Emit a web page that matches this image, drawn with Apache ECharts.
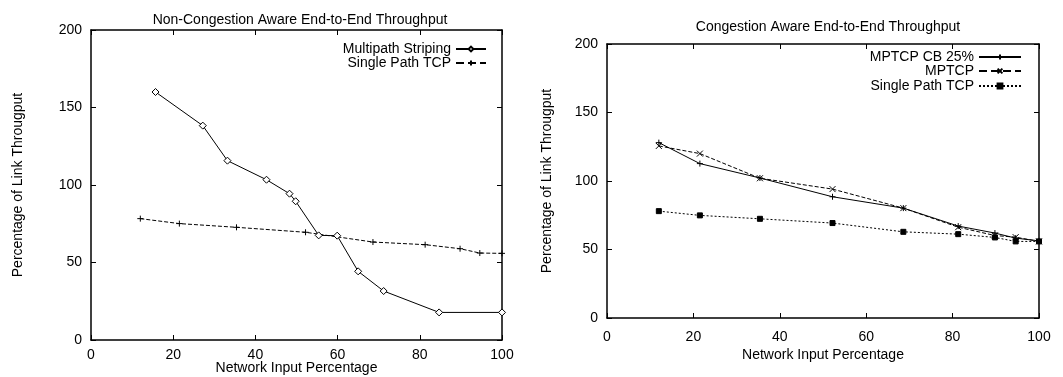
<!DOCTYPE html>
<html>
<head>
<meta charset="utf-8">
<script src="https://cdn.jsdelivr.net/npm/echarts@6/dist/echarts.min.js"></script>
<style>
  html, body { margin: 0; padding: 0; background: #fff; }
  #chart { width: 1063px; height: 377px; }
</style>
</head>
<body>
<div id="chart"></div>
<script>
// left panel: non-congestion aware
const stripingX = [15.7, 27.2, 33.2, 42.7, 48.3, 49.8, 55.4, 59.9, 65.0, 71.2, 84.7, 100];
const stripingY = [160, 138.3, 115.7, 103.4, 94.4, 89.5, 67.5, 67.3, 44.3, 31.6, 17.8, 17.8];
const singleX = [12, 21.5, 35.4, 52.2, 68.6, 81.3, 89.8, 94.6, 100];
const singleLeftY = [78.3, 75.1, 72.7, 69.5, 63.2, 61.5, 58.9, 56.1, 55.9];

// right panel: congestion aware
const cbY = [128.0, 112.7, 102.2, 88.5, 80.2, 67.1, 62.0, 58.3, 56.3];
const mptcpY = [125.6, 120.0, 102.0, 94.1, 80.2, 66.3, 60.2, 59.0, 55.9];
const singleRightY = [78.0, 74.9, 72.4, 69.3, 62.9, 61.2, 58.8, 55.9, 55.9];

const xTicks = [0, 20, 40, 60, 80, 100];
const yTicks = [0, 50, 100, 150, 200];

const FONT = "Liberation Sans";
const zip = (xs, ys) => xs.map((x, i) => [x, ys[i]]);

const PLUS = "path://M0,5H10M5,0V10";
const CROSS = "path://M0,0L10,10M10,0L0,10";
const DOTS = [2, 2];

function axisBase(extra) {
  return Object.assign({
    type: "value",
    nameMoveOverlap: false,
    axisLine: { show: true, onZero: false, lineStyle: { color: "#000", width: 1.5 } },
    axisTick: { show: true, inside: true, length: 5, lineStyle: { color: "#000" } },
    splitLine: { show: false },
    axisLabel: { color: "#000", fontFamily: FONT, fontSize: 14 },
    nameTextStyle: { color: "#000", fontFamily: FONT, fontSize: 14 },
  }, extra);
}

function xAxes(gridIndex, gap, labelMargin) {
  return [
    axisBase({
      gridIndex, min: xTicks[0], max: xTicks[xTicks.length - 1], interval: 20,
      position: "bottom", name: "Network Input Percentage", nameLocation: "middle", nameGap: gap,
      axisLabel: { color: "#000", fontFamily: FONT, fontSize: 14, margin: labelMargin },
    }),
    axisBase({
      gridIndex, min: 0, max: 100, interval: 20, position: "top",
      axisLabel: { show: false },
    }),
  ];
}

function yAxes(gridIndex, gap, labelMargin) {
  return [
    axisBase({
      gridIndex, min: yTicks[0], max: yTicks[yTicks.length - 1], interval: 50,
      position: "left", name: "Percentage of Link Througput", nameLocation: "middle", nameGap: gap,
      axisLabel: { color: "#000", fontFamily: FONT, fontSize: 14, margin: labelMargin },
    }),
    axisBase({
      gridIndex, min: 0, max: 200, interval: 50, position: "right",
      axisLabel: { show: false },
    }),
  ];
}

function lineSeries(name, data, xi, yi, symbol, size, lineType, fill) {
  return {
    name, type: "line", data, xAxisIndex: xi, yAxisIndex: yi,
    symbol, symbolSize: size, showAllSymbol: true, animation: false,
    lineStyle: { color: "#000", width: 1, type: lineType },
    itemStyle: { color: fill, borderColor: "#000", borderWidth: 1 },
    emphasis: { disabled: true },
  };
}

function legendRow(name, top, right, itemWidth, label) {
  return {
    data: [name], top, right, orient: "vertical", align: "right",
    itemWidth, itemHeight: 6, selectedMode: false, padding: 0,
    textStyle: { color: "#000", fontFamily: FONT, fontSize: 14 },
    formatter: label ? () => label : undefined,
  };
}

const chart = echarts.init(document.getElementById("chart"), null, { renderer: "canvas" });

chart.setOption({
  backgroundColor: "#fff",
  animation: false,
  title: [
    { text: "Non-Congestion Aware End-to-End Throughput", left: 295, top: 8, textAlign: "center",
      textStyle: { color: "#000", fontFamily: FONT, fontSize: 14, fontWeight: "normal" } },
    { text: "Congestion Aware End-to-End Throughput", left: 823, top: 15, textAlign: "center",
      textStyle: { color: "#000", fontFamily: FONT, fontSize: 14, fontWeight: "normal" } },
  ],
  grid: [
    { left: 91, top: 30, width: 411, height: 310, outerBoundsMode: "none" },
    { left: 607, top: 44, width: 432, height: 274, outerBoundsMode: "none" },
  ],
  xAxis: [...xAxes(0, 21, 8), ...xAxes(1, 30, 12)],
  yAxis: [...yAxes(0, 66, 9), ...yAxes(1, 53, 9)],
  legend: [
    legendRow("Multipath Striping", 42, 576, 30),
    legendRow("Single Path TCP", 56, 576, 30),
    legendRow("MPTCP CB 25%", 50, 41, 42),
    legendRow("MPTCP", 64, 41, 42),
    legendRow("Single Path TCP (CA)", 79, 41, 42, "Single Path TCP"),
  ],
  series: [
    lineSeries("Multipath Striping", zip(stripingX, stripingY), 0, 0, "diamond", 7, "solid", "#fff"),
    lineSeries("Single Path TCP", zip(singleX, singleLeftY), 0, 0, PLUS, 6, "dashed", "none"),
    lineSeries("MPTCP CB 25%", zip(singleX, cbY), 2, 2, PLUS, 6, "solid", "none"),
    lineSeries("MPTCP", zip(singleX, mptcpY), 2, 2, CROSS, 6, "dashed", "none"),
    lineSeries("Single Path TCP (CA)", zip(singleX, singleRightY), 2, 2, "rect", 5, DOTS, "#000"),
  ],
});
</script>
</body>
</html>
